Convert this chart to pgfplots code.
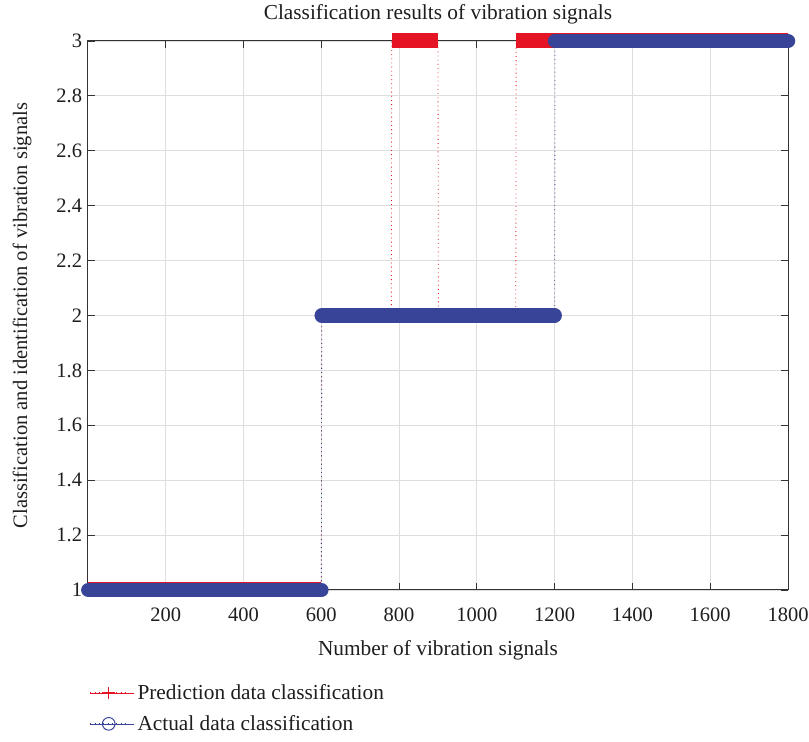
\documentclass[border=0pt]{standalone}
\usepackage{pgfplots}
\pgfplotsset{compat=1.18}
\usepackage{pgfplotstable}
\usepackage{fontspec}
\setmainfont{Liberation Serif}

\definecolor{actblue}{RGB}{56,68,152}
\definecolor{predred}{RGB}{228,20,36}
\definecolor{txt}{RGB}{30,30,30}

\pgfplotstableread{
x y
1 1
600 1
601 2
1200 2
1201 3
1800 3
}\actual
\pgfplotstableread{
x y
1 1
600 1
nan nan
601 2
1200 2
nan nan
1201 3
1800 3
}\actualband
\pgfplotstableread{
x y
1 1
600 1
601 2
780 2
781 3
900 3
901 2
1100 2
1101 3
1800 3
}\pred
\pgfplotstableread{
x y
1 1
600 1
nan nan
601 2
780 2
nan nan
781 3
900 3
nan nan
901 2
1100 2
nan nan
1101 3
1800 3
}\predband

\begin{document}
\begin{tikzpicture}
\begin{axis}[name=ax,
  scale only axis, width=420pt, height=329.4pt,
  xmin=0, xmax=1800, ymin=1, ymax=3,
  xtick={200,400,...,1800},
  ytick={1,1.2,1.4,1.6,1.8,2,2.2,2.4,2.6,2.8,3},
  yticklabels={1,1.2,1.4,1.6,1.8,2,2.2,2.4,2.6,2.8,3},
  grid=major, major grid style={black!13, line width=0.5pt},
  axis line style={line width=0.6pt, black!80},
  tick style={black!80, line width=0.5pt}, major tick length=4pt,
  clip=false,
  /pgf/number format/assume math mode=true,
  /pgf/number format/1000 sep={},
  tick label style={font=\fontsize{12.3}{14}\selectfont, text=txt},
  xticklabel style={yshift=-7pt},
  every axis title shift=0pt,
  title={Classification results of vibration signals},
  title style={font=\fontsize{12.8}{15}\selectfont, text=txt, at={(axis description cs:0.5,1.049)}, anchor=center},
  xlabel={Number of vibration signals},
  xlabel style={font=\fontsize{12.8}{15}\selectfont, text=txt, at={(axis description cs:0.5,-0.109)}, anchor=center},
  ylabel={Classification and identification of vibration signals},
  ylabel style={font=\fontsize{12.3}{15}\selectfont, text=txt, at={(axis description cs:-0.094,0.5)}, anchor=center, rotate=0},
  legend style={draw=none, fill=none, at={(axis description cs:0.002,-0.165)}, anchor=north west,
    font=\fontsize{12.8}{15}\selectfont, text=txt, row sep=4pt, inner sep=0pt},
  legend cell align=left,
  legend image code/.code={
    \draw[#1, dotted, line width=0.6pt] (0cm,0cm) -- (0.78cm,0cm);
    \draw[#1, solid, line width=0.6pt, mark size=3.8pt] plot coordinates {(0.39cm,0cm)};
    \path (0cm,0cm) -- (0.92cm,0cm);
  },
]
\addplot[predred, dotted, line width=0.5pt, forget plot] table {\pred};
\addplot[predred, line width=9.0pt, line cap=butt, forget plot, unbounded coords=jump] table {\predband};
\addplot[actblue, dotted, line width=0.5pt, forget plot] table {\actual};
\addplot[actblue, line width=8.7pt, line cap=round, forget plot, unbounded coords=jump] table {\actualband};

\addlegendimage{predred, mark=+}
\addlegendentry{Prediction data classification}
\addlegendimage{actblue, mark=o}
\addlegendentry{Actual data classification}
\end{axis}
\pgfresetboundingbox
\path ([shift={(-52.8pt,-91.2pt)}]ax.south west) rectangle ([shift={(12.6pt,24.6pt)}]ax.north east);
\end{tikzpicture}
\end{document}
